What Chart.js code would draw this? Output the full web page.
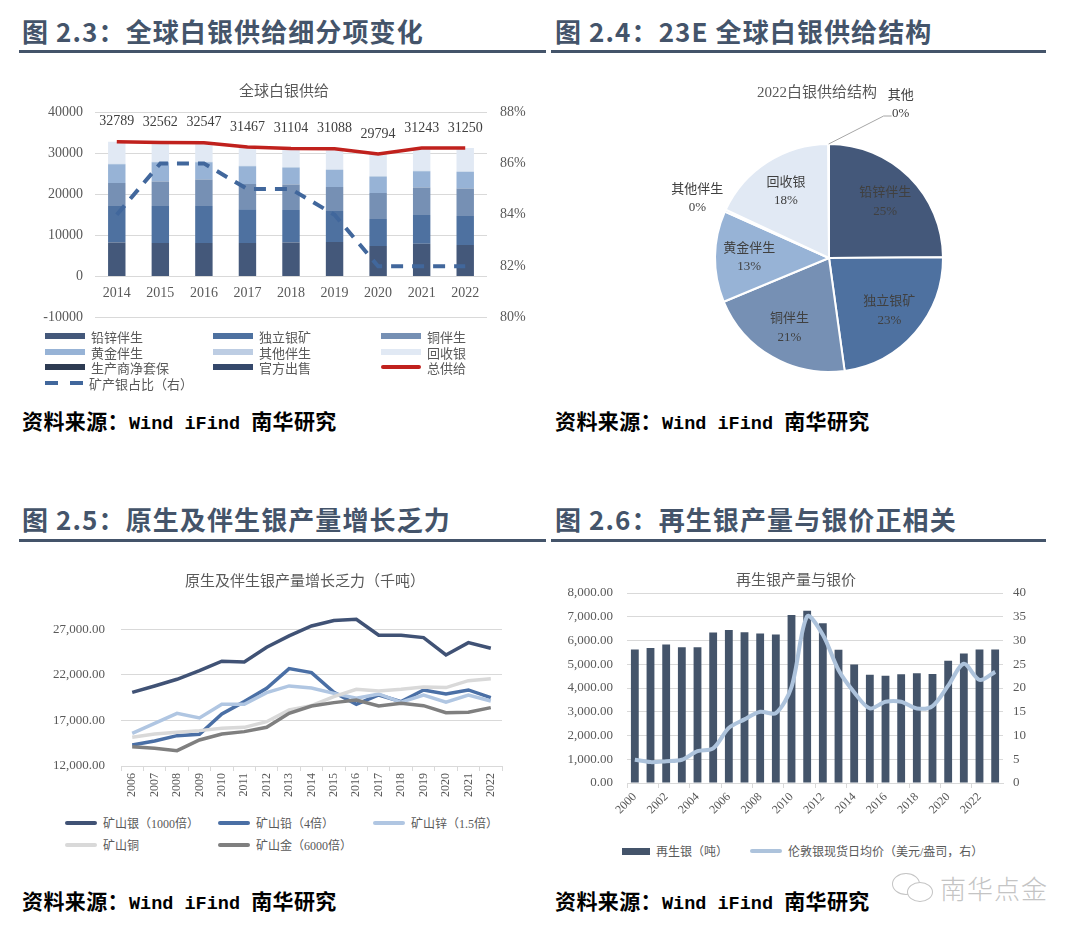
<!DOCTYPE html>
<html>
<head>
<meta charset="utf-8">
<script src="https://cdn.jsdelivr.net/npm/chart.js@4.4.1/dist/chart.umd.min.js"></script>
<style>
  body { margin: 0; background: #fff; }
  #page { position: relative; width: 1080px; height: 938px; overflow: hidden; background: #fff; font-family: "Noto Sans CJK SC", sans-serif; }
  .hd { position: absolute; font-size: 26px; font-weight: 700; color: #44546a; letter-spacing: 1.1px; line-height: 34px; white-space: nowrap; }
  .rule { position: absolute; height: 3px; background: #44546a; }
  .src { position: absolute; font-size: 21px; font-weight: 700; color: #000; line-height: 26px; white-space: nowrap; letter-spacing: 0.4px; }
  .src .en { font-family: "Liberation Mono", monospace; font-size: 18.5px; letter-spacing: 0; }
  canvas { position: absolute; }
  .lg { position: absolute; display: flex; align-items: center; height: 18px; color: #595959; white-space: nowrap; font-family: "Liberation Serif", "Noto Sans CJK SC", serif; }
  .lg .sw { display: inline-block; margin-right: 6px; }
  .wm { position: absolute; left: 940px; top: 872px; font-size: 26px; color: #c4c4c4; font-weight: 300; letter-spacing: 1px; line-height: 32px; }
  .bub { position: absolute; border: 1.5px solid #c4c4c4; border-radius: 50%; background: #fff; }
</style>
</head>
<body>
<div id="page">
  <div class="hd" style="left:22px;top:14px;">图 2.3：全球白银供给细分项变化</div>
  <div class="rule" style="left:19px;top:50px;width:527px;"></div>
  <div class="hd" style="left:555px;top:14px;">图 2.4：23E 全球白银供给结构</div>
  <div class="rule" style="left:551px;top:50px;width:495px;"></div>
  <div class="hd" style="left:22px;top:502px;">图 2.5：原生及伴生银产量增长乏力</div>
  <div class="rule" style="left:19px;top:539px;width:527px;"></div>
  <div class="hd" style="left:555px;top:502px;">图 2.6：再生银产量与银价正相关</div>
  <div class="rule" style="left:551px;top:539px;width:495px;"></div>

  <canvas id="c1" width="525" height="264" style="left:20px;top:75px;"></canvas>
  <canvas id="c2" width="494" height="320" style="left:552px;top:75px;"></canvas>
  <canvas id="c3" width="525" height="250" style="left:20px;top:560px;"></canvas>
  <canvas id="c4" width="490" height="260" style="left:555px;top:570px;"></canvas>

  <div class="src" style="left:22px;top:407px;">资料来源：<span class="en">Wind iFind </span>南华研究</div>
  <div class="src" style="left:555px;top:407px;">资料来源：<span class="en">Wind iFind </span>南华研究</div>
  <div class="src" style="left:22px;top:887px;">资料来源：<span class="en">Wind iFind </span>南华研究</div>
  <div class="src" style="left:555px;top:887px;">资料来源：<span class="en">Wind iFind </span>南华研究</div>

  <div class="bub" style="left:892px;top:873px;width:26px;height:20px;"></div>
  <div class="bub" style="left:907px;top:882px;width:24px;height:18px;"></div>
  <div class="wm">南华点金</div>
</div>

<script>
// ---------- 数据 ----------
// 图 2.3 全球白银供给（吨）
const supplyYears = ['2014', '2015', '2016', '2017', '2018', '2019', '2020', '2021', '2022'];
const leadZinc = [8290, 8130, 8130, 8130, 8290, 8370, 7400, 7970, 7640];
const primarySilver = [8860, 9020, 9020, 8210, 7890, 7560, 6580, 6990, 7080];
const copperBy = [5610, 5940, 6430, 6180, 6180, 5860, 6350, 6670, 6660];
const goldBy = [4550, 4710, 4220, 4310, 4140, 4140, 3980, 3980, 4070];
const otherBy = [80, 80, 80, 80, 80, 80, 80, 80, 80];
const recycling = [5400, 4680, 4670, 4560, 4520, 5080, 5400, 5550, 5720];
const hedging = [0, 0, 0, 0, 0, 0, 0, 0, 0];
const officialSales = [0, 0, 0, 0, 0, 0, 0, 0, 0];
const totalSupply = [32789, 32562, 32547, 31467, 31104, 31088, 29794, 31243, 31250];
const mineShare = [0.84, 0.86, 0.86, 0.85, 0.85, 0.84, 0.82, 0.82, 0.82];

// 图 2.4 2022 供给结构（%）
const pieLabels = ['铅锌伴生', '独立银矿', '铜伴生', '黄金伴生', '其他伴生', '回收银', '其他'];
const pieShares = [25, 23, 21, 13, 0.3, 18, 0.1];

// 图 2.5 原生及伴生银产量
const mineYears = ['2006', '2007', '2008', '2009', '2010', '2011', '2012', '2013', '2014', '2015', '2016', '2017', '2018', '2019', '2020', '2021', '2022'];
const mineSilver = [20080, 20780, 21510, 22460, 23490, 23410, 25020, 26270, 27360, 27950, 28090, 26340, 26340, 26080, 24180, 25530, 24910];
const mineLead = [14300, 14740, 15330, 15470, 17710, 19060, 20520, 22680, 22240, 20080, 18770, 19790, 19060, 20340, 19900, 20340, 19500];
const mineZinc = [15580, 16680, 17780, 17270, 18770, 18770, 20050, 20780, 20560, 19970, 19430, 19900, 18990, 19790, 18990, 19790, 19130];
const mineCopper = [15150, 15510, 15690, 15880, 16130, 16240, 16860, 18150, 18620, 19610, 20410, 20230, 20410, 20670, 20600, 21360, 21580];
const mineGold = [14120, 13940, 13680, 14850, 15510, 15770, 16240, 17780, 18580, 18950, 19240, 18580, 18880, 18620, 17850, 17890, 18400];
const mineTicks = [12000, 17000, 22000, 27000];

// 图 2.6 再生银与银价
const recycleYears = ['2000', '2001', '2002', '2003', '2004', '2005', '2006', '2007', '2008', '2009', '2010', '2011', '2012', '2013', '2014', '2015', '2016', '2017', '2018', '2019', '2020', '2021', '2022', '2023'];
const recycledSilver = [5620, 5680, 5830, 5720, 5720, 6340, 6440, 6350, 6300, 6250, 7070, 7250, 6730, 5610, 4990, 4560, 4520, 4580, 4620, 4590, 5150, 5450, 5620, 5620];
const silverPrice = [4.9, 4.4, 4.6, 4.9, 6.7, 7.3, 11.6, 13.4, 15.0, 14.7, 20.2, 35.1, 31.2, 23.8, 19.1, 15.7, 17.1, 17.1, 15.7, 16.2, 20.5, 25.1, 21.7, 23.4];

// ---------- 通用 ----------
const serif = '"Liberation Serif", "Noto Sans CJK SC", serif';
const cjk = '"Noto Sans CJK SC", sans-serif';
Chart.defaults.font.family = serif;
Chart.defaults.color = '#595959';
Chart.defaults.animation = false;
Chart.defaults.plugins.legend.display = false;
Chart.defaults.plugins.tooltip.enabled = false;

const GRID = '#d9d9d9';
const page = document.getElementById('page');
const fmt2 = v => Number(v).toLocaleString('en-US', { minimumFractionDigits: 2, maximumFractionDigits: 2 });

function addLegend(x, y, size, sw, text) {
  const el = document.createElement('div');
  el.className = 'lg';
  el.style.left = x + 'px';
  el.style.top = (y - 9) + 'px';
  el.style.fontSize = size + 'px';
  const s = document.createElement('span');
  s.className = 'sw';
  s.style.width = sw.w + 'px';
  s.style.height = sw.h + 'px';
  if (sw.dash) {
    s.style.background = `repeating-linear-gradient(to right, ${sw.color} 0 13px, transparent 13px 25px)`;
  } else {
    s.style.background = sw.color;
  }
  if (sw.round) s.style.borderRadius = '2px';
  el.appendChild(s);
  el.appendChild(document.createTextNode(text));
  page.appendChild(el);
}

// 标题插件
function titlePlugin(text, x, y) {
  return {
    id: 'fixedTitle',
    afterDraw(chart) {
      const ctx = chart.ctx;
      ctx.save();
      ctx.font = '15px ' + serif;
      ctx.fillStyle = '#595959';
      ctx.textAlign = 'center';
      ctx.textBaseline = 'middle';
      ctx.fillText(text, x, y);
      ctx.restore();
    }
  };
}

//! 图 2.3 堆积柱 + 折线
const supplyColors = {
  '铅锌伴生': '#44587a', '独立银矿': '#4e71a0', '铜伴生': '#7690b4', '黄金伴生': '#97b3d6',
  '其他伴生': '#bdcde3', '回收银': '#e1e9f4', '生产商净套保': '#2d3b52', '官方出售': '#34486b'
};
const barSeries = [
  ['铅锌伴生', leadZinc], ['独立银矿', primarySilver], ['铜伴生', copperBy], ['黄金伴生', goldBy],
  ['其他伴生', otherBy], ['回收银', recycling], ['生产商净套保', hedging], ['官方出售', officialSales]
];

const totalLabels = {
  id: 'totalLabels',
  afterDatasetsDraw(chart) {
    const ctx = chart.ctx;
    const meta = chart.getDatasetMeta(0);
    ctx.save();
    ctx.font = '14px ' + serif;
    ctx.fillStyle = '#404040';
    ctx.textAlign = 'center';
    ctx.textBaseline = 'middle';
    meta.data.forEach((pt, i) => ctx.fillText(String(totalSupply[i]), pt.x, pt.y - 20));
    ctx.restore();
  }
};

new Chart(document.getElementById('c1'), {
  data: {
    labels: supplyYears,
    datasets: [
      { type: 'line', label: '总供给', data: totalSupply, borderColor: '#c0211d', borderWidth: 3.5, pointRadius: 0, yAxisID: 'y', order: 0 },
      { type: 'line', label: '矿产银占比（右）', data: mineShare, borderColor: '#41679c', borderWidth: 4, borderDash: [12, 9], pointRadius: 0, yAxisID: 'y1', order: 0 },
      ...barSeries.map(([name, vals]) => ({
        type: 'bar', label: name, data: vals, backgroundColor: supplyColors[name], stack: 's',
        yAxisID: 'y', categoryPercentage: 0.4, barPercentage: 1, order: 1
      }))
    ]
  },
  options: {
    responsive: false,
    layout: { padding: { top: 37, bottom: 9, left: 0, right: 0 } },
    scales: {
      x: {
        position: { y: 0 }, stacked: true, offset: true,
        grid: { display: false, drawTicks: false }, border: { display: false },
        ticks: { font: { size: 14 }, padding: 8 },
        afterFit: s => { s.height = 0; }
      },
      y: {
        stacked: true, min: -10000, max: 40000,
        ticks: { stepSize: 10000, font: { size: 14 }, padding: 12, callback: v => String(v) },
        grid: { color: GRID, drawTicks: false }, border: { display: false },
        afterFit: s => { s.width = 75; }
      },
      y1: {
        position: 'right', min: 0.8, max: 0.88,
        ticks: { stepSize: 0.02, font: { size: 14 }, padding: 13, callback: v => Math.round(v * 100) + '%' },
        grid: { display: false, drawTicks: false }, border: { display: false },
        afterFit: s => { s.width = 58; }
      }
    }
  },
  plugins: [totalLabels, titlePlugin('全球白银供给', 264, 17)]
});

// 图 2.3 图例（三列）
const legend1 = ['铅锌伴生', '独立银矿', '铜伴生', '黄金伴生', '其他伴生', '回收银', '生产商净套保', '官方出售', '总供给', '矿产银占比（右）'];
const lgCols1 = [45, 213, 381];
const lgRows1 = [336, 352, 367, 383];
legend1.forEach((name, i) => {
  let sw;
  if (name === '总供给') sw = { w: 40, h: 4, color: '#c0211d', round: true };
  else if (name === '矿产银占比（右）') sw = { w: 38, h: 4, color: '#41679c', dash: true };
  else sw = { w: 40, h: 6, color: supplyColors[name] };
  addLegend(lgCols1[i % 3], lgRows1[Math.floor(i / 3)], 13, sw, name);
});

//! 图 2.4 饼图
const pieColors = ['#44587a', '#4e71a0', '#7690b4', '#97b3d6', '#bdcde3', '#e1e9f4', '#dde5f0'];
const pieText = {
  id: 'pieText',
  afterDatasetsDraw(chart) {
    const ctx = chart.ctx;
    const arcs = chart.getDatasetMeta(0).data;
    const total = pieShares.reduce((a, b) => a + b, 0);
    ctx.save();
    ctx.textAlign = 'center';
    ctx.textBaseline = 'middle';
    arcs.forEach((arc, i) => {
      const pct = Math.round(pieShares[i] / total * 100) + '%';
      const mid = (arc.startAngle + arc.endAngle) / 2;
      const r = arc.outerRadius;
      let x, y;
      if (i === 6) {
        const ax = arc.x + Math.cos(mid) * r, ay = arc.y + Math.sin(mid) * r;
        ctx.strokeStyle = '#a6a6a6';
        ctx.lineWidth = 1;
        ctx.beginPath();
        ctx.moveTo(ax, ay);
        ctx.lineTo(ax + 55, ay - 28);
        ctx.lineTo(ax + 63, ay - 28);
        ctx.stroke();
        x = ax + 72; y = ay - 40;
      } else if (i === 4) {
        x = arc.x + Math.cos(mid) * r * 1.27;
        y = arc.y + Math.sin(mid) * r * 1.27;
      } else {
        x = arc.x + Math.cos(mid) * r * 0.7;
        y = arc.y + Math.sin(mid) * r * 0.7;
      }
      ctx.fillStyle = '#404040';
      ctx.font = '13px ' + cjk;
      ctx.fillText(pieLabels[i], x, y - 10);
      ctx.font = '13px ' + serif;
      ctx.fillText(pct, x, y + 10);
    });
    ctx.restore();
  }
};

new Chart(document.getElementById('c2'), {
  type: 'pie',
  data: {
    labels: pieLabels,
    datasets: [{ data: pieShares, backgroundColor: pieColors, borderColor: '#ffffff', borderWidth: 2 }]
  },
  options: {
    responsive: false,
    layout: { padding: { left: 162, top: 68, right: 102, bottom: 22 } }
  },
  plugins: [pieText, titlePlugin('2022白银供给结构', 265, 18)]
});

//! 图 2.5 折线
const mineSeries = [
  ['矿山银（1000倍）', mineSilver, '#405275'],
  ['矿山铅（4倍）', mineLead, '#4a6fa5'],
  ['矿山锌（1.5倍）', mineZinc, '#b0c6e2'],
  ['矿山铜', mineCopper, '#d9d9d9'],
  ['矿山金（6000倍）', mineGold, '#7f7f7f']
];

new Chart(document.getElementById('c3'), {
  type: 'line',
  data: {
    labels: mineYears,
    datasets: mineSeries.map(([name, vals, color], i) => ({
      label: name, data: vals, borderColor: color, borderWidth: 3.5, pointRadius: 0, tension: 0, order: 5 - i
    }))
  },
  options: {
    responsive: false,
    layout: { padding: { top: 51, right: 43, left: 0, bottom: 0 } },
    scales: {
      x: {
        offset: true,
        grid: { offset: true, drawOnChartArea: false, color: GRID, tickLength: 5 },
        border: { color: GRID },
        ticks: { minRotation: 90, maxRotation: 90, autoSkip: false, font: { size: 12 }, padding: 2 },
        afterFit: s => { s.height = 44; }
      },
      y: {
        min: 12000, max: 29000,
        afterBuildTicks: s => { s.ticks = mineTicks.map(v => ({ value: v })); },
        ticks: { font: { size: 13 }, padding: 16, callback: fmt2 },
        grid: { color: GRID, drawTicks: false }, border: { display: false },
        afterFit: s => { s.width = 101; }
      }
    }
  },
  plugins: [titlePlugin('原生及伴生银产量增长乏力（千吨）', 285, 22)]
});

const lgCols3 = [65, 218, 373];
const lgRows3 = [823, 845];
mineSeries.forEach(([name, , color], i) => {
  addLegend(lgCols3[i % 3], lgRows3[Math.floor(i / 3)], 12, { w: 32, h: 4, color: color, round: true }, name);
});

//! 图 2.6 柱 + 折线
new Chart(document.getElementById('c4'), {
  data: {
    labels: recycleYears,
    datasets: [
      { type: 'line', label: '伦敦银现货日均价（美元/盎司，右）', data: silverPrice, yAxisID: 'y1', borderColor: '#adc3dc', borderWidth: 4, pointRadius: 0, tension: 0.3, order: 0 },
      { type: 'bar', label: '再生银（吨）', data: recycledSilver, yAxisID: 'y', backgroundColor: '#44546a', categoryPercentage: 1, barPercentage: 0.5, order: 1 }
    ]
  },
  options: {
    responsive: false,
    layout: { padding: { top: 23, left: 0, right: 0, bottom: 0 } },
    scales: {
      x: {
        offset: true,
        grid: { offset: true, drawOnChartArea: false, tickLength: 5, color: c => (c.index % 2 === 0 ? GRID : 'rgba(0,0,0,0)') },
        border: { color: GRID },
        ticks: { autoSkip: false, minRotation: 45, maxRotation: 45, font: { size: 12 }, padding: 2, callback: (v, i) => (i % 2 === 0 ? recycleYears[i] : '') },
        afterFit: s => { s.height = 47; }
      },
      y: {
        min: 0, max: 8000,
        ticks: { stepSize: 1000, font: { size: 13 }, padding: 14, callback: fmt2 },
        grid: { color: GRID, drawTicks: false }, border: { display: false },
        afterFit: s => { s.width = 72; }
      },
      y1: {
        position: 'right', min: 0, max: 40,
        ticks: { stepSize: 5, font: { size: 13 }, padding: 10 },
        grid: { display: false, drawTicks: false }, border: { display: false },
        afterFit: s => { s.width = 42; }
      }
    }
  },
  plugins: [titlePlugin('再生银产量与银价', 241, 11)]
});

addLegend(622, 851, 12, { w: 28, h: 7, color: '#44546a' }, '再生银（吨）');
addLegend(750, 851, 12, { w: 32, h: 4, color: '#adc3dc', round: true }, '伦敦银现货日均价（美元/盎司，右）');
</script>
</body>
</html>
